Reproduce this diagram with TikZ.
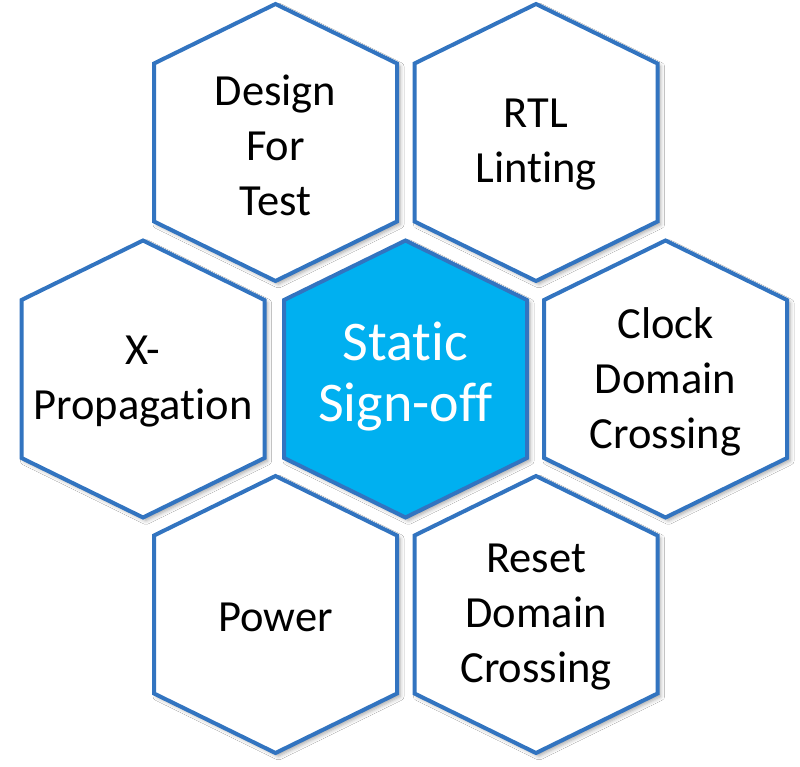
\documentclass[tikz,border=0pt]{standalone}
\usepackage{fontspec}
\setmainfont[Ligatures={NoCommon}, RawFeature={-liga;-clig;-calt;-dlig}]{Carlito}
\usetikzlibrary{shadows.blur}
\definecolor{hexline}{RGB}{50,116,192}
\definecolor{hexcore}{RGB}{0,176,240}
\tikzset{
  hexa/.style={draw=hexline, line width=4pt, line join=miter, fill=white,
    blur shadow={shadow xshift=3pt, shadow yshift=-3pt, shadow blur radius=4pt, shadow opacity=35}},
  hexacore/.style={hexa, fill=hexcore},
  hextext/.style={align=center, text=black, font=\fontsize{44.5}{55}\selectfont},
  coretext/.style={align=center, text=white, font=\fontsize{56}{61}\selectfont}
}
\begin{document}
\begin{tikzpicture}[x=1pt,y=-1pt]
\useasboundingbox[fill=white] (0,0) rectangle (800,767);
\foreach \cx/\cy in {275.5/142.5, 536/142.5, 143/379, 665.5/379, 275.5/614.5, 536/614.5}{
  \draw[hexa, shift={(\cx,\cy)}] (0,-138.5) -- (121.5,-79) -- (121.5,79) -- (0,138.5) -- (-121.5,79) -- (-121.5,-79) -- cycle;
}
\draw[hexacore, shift={(405.5,379)}] (0,-138.5) -- (121.5,-79) -- (121.5,79) -- (0,138.5) -- (-121.5,79) -- (-121.5,-79) -- cycle;
\node[hextext] (dft) at (275.5,145) {Design\\For\\Test};
\node[hextext] (rtl) at (536,145) {RTL\\Linting};
\node[hextext] (xprop) at (143,382) {X-\\Propagation};
\node[coretext] (core) at (405.5,377) {Static\\Sign-off};
\node[hextext] (cdc) at (665.5,382) {Clock\\Domain\\Crossing};
\node[hextext] (pwr) at (275.5,617) {Power};
\node[hextext] (rdc) at (536,617) {Reset\\Domain\\Crossing};
\end{tikzpicture}
\end{document}
